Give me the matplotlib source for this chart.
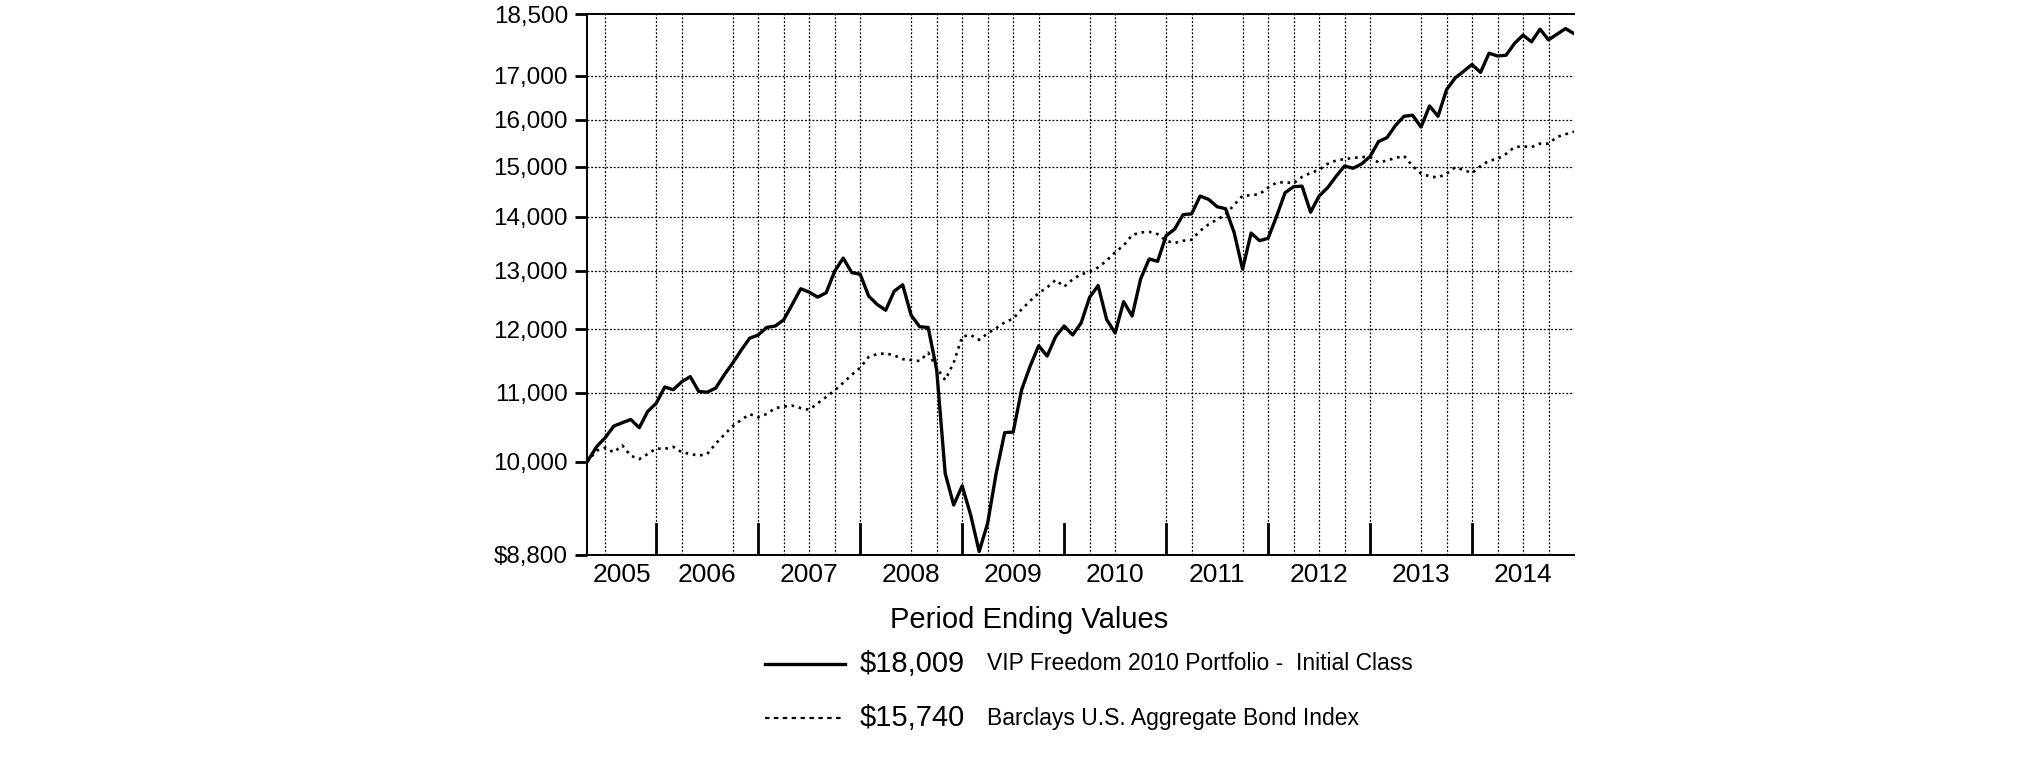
import numpy as np
import matplotlib
matplotlib.use('Agg')
from matplotlib import pyplot as plt
from matplotlib.lines import Line2D

plt.rcParams['font.family'] = ['Liberation Sans', 'DejaVu Sans']

# months counted from Dec 2004 (Dec 2005 = 12); first point is the Apr 26 2005 start
months = [3.85] + list(range(5, 121))

fund = [10000,
        10214, 10339, 10504, 10553, 10600, 10481, 10719, 10839,
        11084, 11043, 11163, 11243, 11016, 11005, 11068, 11270, 11456, 11660, 11853, 11905,
        12029, 12052, 12155, 12414, 12685, 12626, 12540, 12616, 12995, 13230, 12971, 12940,
        12557, 12414, 12316, 12643, 12754, 12230, 12040, 12028, 11350, 9845, 9426, 9676,
        9297, 8843, 9192, 9845, 10410, 10419, 11043, 11406, 11730, 11565, 11878, 12052,
        11905, 12104, 12538, 12740, 12161, 11937, 12462, 12219, 12856, 13215, 13173, 13643,
        13767, 14045, 14059, 14407, 14342, 14198, 14158, 13706, 13031, 13693, 13551, 13596,
        14012, 14474, 14593, 14605, 14091, 14407, 14573, 14802, 15015, 14968, 15057, 15211,
        15527, 15612, 15877, 16076, 16099, 15840, 16305, 16076, 16672, 16940, 17098, 17261,
        17073, 17530, 17464, 17481, 17767, 17970, 17806, 18118, 17855, 17994, 18133, 18009]

bond = [10000,
        10157, 10196, 10133, 10229, 10086, 10039, 10110, 10186,
        10181, 10210, 10133, 10110, 10086, 10110, 10253, 10381, 10504, 10595, 10678, 10633,
        10681, 10767, 10790, 10804, 10767, 10743, 10839, 10933, 11032, 11148, 11270, 11381,
        11550, 11597, 11608, 11576, 11516, 11502, 11486, 11619, 11381, 11190, 11460, 11878,
        11905, 11825, 11931, 12017, 12113, 12175, 12332, 12476, 12609, 12708, 12840, 12720,
        12850, 12940, 12980, 13063, 13184, 13338, 13460, 13656, 13706, 13717, 13673, 13549,
        13507, 13549, 13568, 13735, 13858, 13950, 14045, 14236, 14412, 14425, 14445, 14576,
        14675, 14686, 14660, 14792, 14871, 14935, 15058, 15128, 15158, 15180, 15201, 15201,
        15086, 15128, 15181, 15224, 15015, 14857, 14804, 14778, 14857, 14986, 14935, 14869,
        15015, 15123, 15159, 15267, 15409, 15424, 15409, 15483, 15483, 15625, 15683, 15740]

years = ['2005', '2006', '2007', '2008', '2009', '2010', '2011', '2012', '2013', '2014']
year_ends = [12, 24, 36, 48, 60, 72, 84, 96, 108]
grid_months = [6, 12, 15, 21, 24, 27, 30, 33, 36, 42, 45, 48, 51, 54, 57, 63, 66,
               72, 75, 81, 84, 87, 90, 93, 96, 102, 105, 108, 111, 114, 117]
yticks = [8800, 10000, 11000, 12000, 13000, 14000, 15000, 16000, 17000, 18500]
ytick_labels = ['$8,800', '10,000', '11,000', '12,000', '13,000', '14,000',
                '15,000', '16,000', '17,000', '18,500']
ygrid = [11000, 12000, 13000, 14000, 15000, 16000, 17000]

legend_values = ['$18,009', '$15,740']
legend_names = ['VIP Freedom 2010 Portfolio -  Initial Class',
                'Barclays U.S. Aggregate Bond Index']

W, H = 2025, 761
fig = plt.figure(figsize=(W / 100, H / 100), dpi=100)
ax = fig.add_axes([587 / W, 1 - 555 / H, (1574 - 587) / W, (555 - 14) / H])

ax.set_yscale('log')
ax.set_xlim(months[0], 120)
ax.set_ylim(8800, 18500)

grid_ls = (0, (1.5, 1.5))
for g in grid_months:
    ax.axvline(g, color='black', lw=0.9, ls=grid_ls, zorder=1)
for g in ygrid:
    ax.axhline(g, color='black', lw=0.9, ls=grid_ls, zorder=1)

ax.plot(months, fund, color='black', lw=2.4, zorder=3)
ax.plot(months, bond, color='black', lw=1.9, ls=(0, (1, 1.8)), zorder=3)

for ye in year_ends:
    ax.axvline(ye, ymin=0, ymax=31 / 541, color='black', lw=2.0, zorder=4)

ax.yaxis.set_minor_locator(matplotlib.ticker.NullLocator())
ax.yaxis.set_minor_formatter(matplotlib.ticker.NullFormatter())
ax.set_yticks(yticks)
ax.set_yticklabels(ytick_labels, fontsize=17.5)
ax.tick_params(axis='y', length=8.6, width=2, pad=5, color='black')
ax.set_xticks([])

bounds = [months[0]] + year_ends + [120]
for i, yr in enumerate(years):
    ax.text((bounds[i] + bounds[i + 1]) / 2, -0.037, yr, transform=ax.get_xaxis_transform(),
            ha='center', va='center', fontsize=19)

for s in ['left', 'bottom', 'top']:
    ax.spines[s].set_linewidth(1.4)
ax.spines['right'].set_visible(False)

# legend block drawn in figure pixels
fig.text(1029 / W, 1 - 620 / H, 'Period Ending Values', ha='center', va='center', fontsize=21)
styles = [dict(lw=2.4, ls='-'), dict(lw=1.6, ls=(0, (2, 2)))]
rows = [664, 718]
for yv, val, name, st in zip(rows, legend_values, legend_names, styles):
    fig.add_artist(Line2D([765 / W, 845 / W], [1 - yv / H, 1 - yv / H], color='black', **st))
    fig.text(860 / W, 1 - yv / H, val, ha='left', va='center', fontsize=21)
    fig.text(987 / W, 1 - yv / H, name, ha='left', va='center', fontsize=16.5)

fig.savefig('out.png', dpi=100)
